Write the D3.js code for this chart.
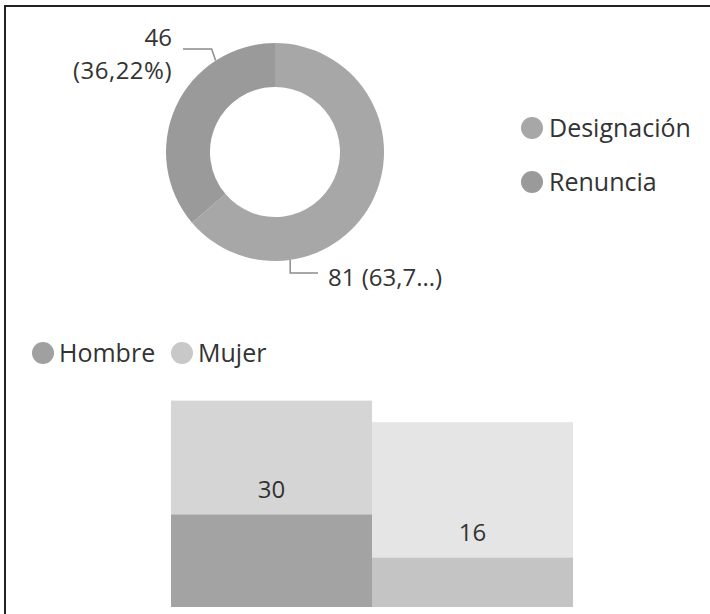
<!DOCTYPE html>
<html>
<head>
<meta charset="utf-8">
<script src="https://cdn.jsdelivr.net/npm/d3@7"></script>
<style>
  body { margin: 0; background: #fff; }
  text { font-family: "Open Sans", sans-serif; fill: #333; }
</style>
</head>
<body>
<svg id="chart"></svg>
<script>
const width = 710;
const height = 614;

// donut data
const tipos = ["Designación", "Renuncia"];
const tipoValores = [81, 46];

// bar data (Renuncia highlighted inside totals)
const generos = ["Hombre", "Mujer"];
const generoTotales = [67, 60];
const generoRenuncia = [30, 16];

const TIPO_COLORS = ["#a7a7a7", "#9a9a9a"];
const GEN_LEGEND = ["#a0a0a0", "#c8c8c8"];
const GEN_FULL = ["#a3a3a3", "#c4c4c4"];
const GEN_FADED = ["#d5d5d5", "#e5e5e5"];

const svg = d3.select("#chart")
  .attr("width", width)
  .attr("height", height);

// frame
svg.append("path")
  .attr("d", `M5,${height} V6 H${width}`)
  .attr("fill", "none")
  .attr("stroke", "#222")
  .attr("stroke-width", 2);

// ---- donut ----
const cx = 275, cy = 152;
const rOuter = 109, rInner = 65;
const total = d3.sum(tipoValores);

const pie = d3.pie().sort(null)(tipoValores);
const arc = d3.arc().innerRadius(rInner).outerRadius(rOuter);

const g = svg.append("g").attr("transform", `translate(${cx},${cy})`);
g.selectAll("path")
  .data(pie)
  .enter()
  .append("path")
  .attr("d", arc)
  .attr("fill", (d, i) => TIPO_COLORS[i]);

const pct = d3.format(".2f");
function pctText(v) { return pct(v / total * 100).replace(".", ",") + "%"; }

// leader lines
const leader = d3.line();
function edgePoint(deg, r) {
  const a = deg * Math.PI / 180;
  return [cx + r * Math.sin(a), cy - r * Math.cos(a)];
}
const pRen = edgePoint(327, rOuter);
svg.append("path")
  .attr("d", leader([pRen, [pRen[0] - 4, 49], [183, 49]]))
  .attr("fill", "none").attr("stroke", "#8c8c8c").attr("stroke-width", 1.5);
const pDes = edgePoint(172, rOuter);
svg.append("path")
  .attr("d", leader([pDes, [pDes[0], 273], [318, 273]]))
  .attr("fill", "none").attr("stroke", "#8c8c8c").attr("stroke-width", 1.5);

svg.append("text")
  .attr("x", 172).attr("y", 46)
  .attr("text-anchor", "end")
  .style("font-size", "24px")
  .text(tipoValores[1]);
svg.append("text")
  .attr("x", 172).attr("y", 79)
  .attr("text-anchor", "end")
  .style("font-size", "24px")
  .style("letter-spacing", "0.5px")
  .text("(" + pctText(tipoValores[1]) + ")");

// Designación label truncated like the original
const desFull = tipoValores[0] + " (" + pctText(tipoValores[0]) + ")";
svg.append("text")
  .attr("x", 328).attr("y", 286)
  .style("font-size", "24px")
  .text(desFull.slice(0, 8) + "...)");

// donut legend
const leg1 = svg.append("g");
tipos.forEach((t, i) => {
  const y = 128 + i * 54;
  leg1.append("circle").attr("cx", 532).attr("cy", y).attr("r", 11).attr("fill", TIPO_COLORS[i]);
  leg1.append("text").attr("x", 549).attr("y", y + 9).style("font-size", "25px").text(t);
});

// ---- bar legend ----
const legX = [43, 182];
generos.forEach((t, i) => {
  svg.append("circle").attr("cx", legX[i]).attr("cy", 353).attr("r", 11).attr("fill", GEN_LEGEND[i]);
  svg.append("text").attr("x", legX[i] + 16).attr("y", 362).style("font-size", "25px").text(t);
});

// ---- bars ----
const x = d3.scaleBand().domain(generos).range([171, 573]).padding(0);
const y = d3.scaleLinear().domain([0, 67]).range([607, 400.6]);

const bars = generos.map((gname, i) => ({
  g: gname, total: generoTotales[i], ren: generoRenuncia[i], i
}));

svg.selectAll("rect.faded")
  .data(bars)
  .enter()
  .append("rect")
  .attr("class", "faded")
  .attr("x", d => x(d.g))
  .attr("width", x.bandwidth())
  .attr("y", d => y(d.total))
  .attr("height", d => y(0) - y(d.total))
  .attr("fill", d => GEN_FADED[d.i]);

svg.selectAll("rect.full")
  .data(bars)
  .enter()
  .append("rect")
  .attr("class", "full")
  .attr("x", d => x(d.g))
  .attr("width", x.bandwidth())
  .attr("y", d => y(d.ren))
  .attr("height", d => y(0) - y(d.ren))
  .attr("fill", d => GEN_FULL[d.i]);

svg.selectAll("text.val")
  .data(bars)
  .enter()
  .append("text")
  .attr("class", "val")
  .attr("x", d => x(d.g) + x.bandwidth() / 2)
  .attr("y", d => y(d.ren) - 26 + 9)
  .attr("text-anchor", "middle")
  .style("font-size", "24px")
  .text(d => d.ren);
</script>
</body>
</html>
